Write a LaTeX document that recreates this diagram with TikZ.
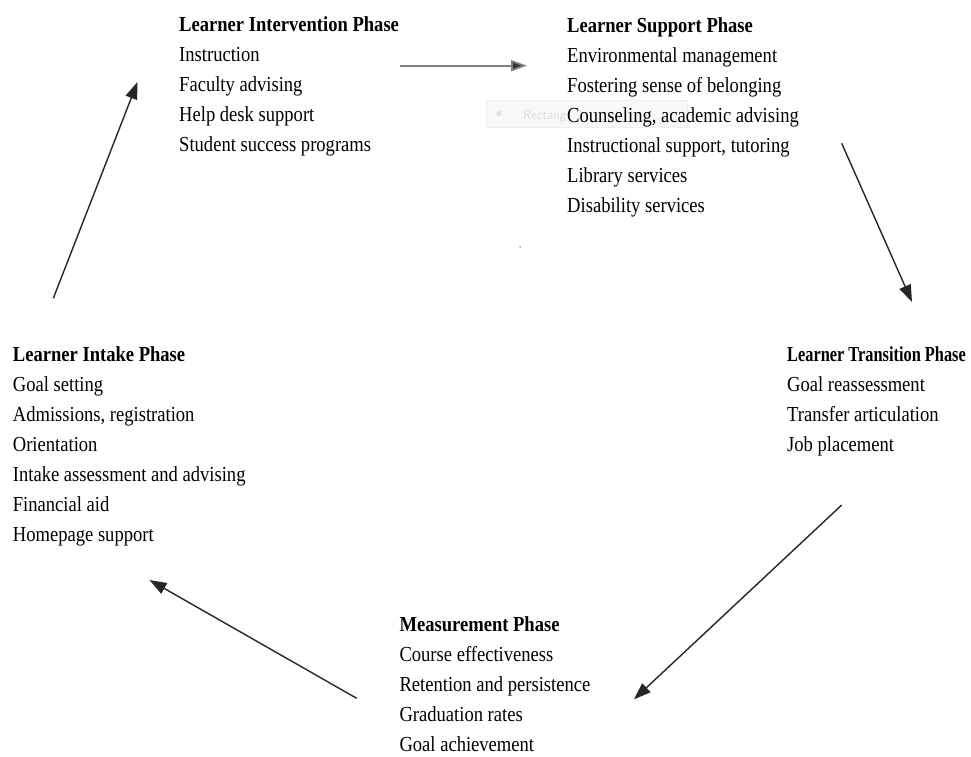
\documentclass[tikz,border=0pt]{standalone}
\usepackage{fontspec}
\usepackage{graphicx}
\setmainfont{Liberation Serif}[FakeStretch=0.868]
\usetikzlibrary{arrows.meta}

\tikzset{
  phase/.style={anchor=base west, inner sep=0pt, font=\fontsize{21.4}{30}\selectfont},
  flow/.style={line width=1.4pt, draw=black!85, -{Triangle[length=17pt,width=12pt]}},
  flowgray/.style={line width=1.8pt, draw=black!50, -{Triangle[length=16pt,width=11pt,fill=black!80]}},
  tipbox/.style={draw=blue!8!gray!12, fill=blue!4!gray!5, line width=0.6pt},
}

\begin{document}
\begin{tikzpicture}[x=1pt,y=-1pt]
\useasboundingbox[fill=white] (0,0) rectangle (971,756);

% faint hover label lying under the support list
\draw[tipbox] (486,100) rectangle (687,127);
\fill[black!12] (499,113.5) circle (2.6pt);
\node[anchor=base west, inner sep=0pt, text=black!14,
      font=\fontfamily{lmss}\fontsize{13}{15}\selectfont] (tiplabel) at (523,119) {Rectang};
\fill[black!35] (520,247) circle (1pt);

% phase blocks
\node[phase] (intervention) at (179,31.7) {\begin{tabular}[t]{@{}l@{}}
  \textbf{Learner Intervention Phase}\\
  Instruction\\
  Faculty advising\\
  Help desk support\\
  Student success programs
\end{tabular}};

\node[phase] (support) at (567,32.3) {\begin{tabular}[t]{@{}l@{}}
  \textbf{Learner Support Phase}\\
  Environmental management\\
  Fostering sense of belonging\\
  Counseling, academic advising\\
  Instructional support, tutoring\\
  Library services\\
  Disability services
\end{tabular}};

\node[phase] (intake) at (12.7,361.7) {\begin{tabular}[t]{@{}l@{}}
  \textbf{Learner Intake Phase}\\
  Goal setting\\
  Admissions, registration\\
  Orientation\\
  Intake assessment and advising\\
  Financial aid\\
  Homepage support
\end{tabular}};

\node[phase] (transition) at (787,361.7) {\begin{tabular}[t]{@{}l@{}}
  \scalebox{0.88}[1]{\textbf{Learner Transition Phase}}\\
  Goal reassessment\\
  Transfer articulation\\
  Job placement
\end{tabular}};

\node[phase] (measurement) at (399.3,631.7) {\begin{tabular}[t]{@{}l@{}}
  \textbf{Measurement Phase}\\
  Course effectiveness\\
  Retention and persistence\\
  Graduation rates\\
  Goal achievement
\end{tabular}};

% arrow end points
\coordinate (intakeOut)       at (53.3,298.3);
\coordinate (interventionIn)  at (137.5,82);
\coordinate (interventionOut) at (400,65.7);
\coordinate (supportIn)       at (527,65.7);
\coordinate (supportOut)      at (841.7,143.3);
\coordinate (transitionIn)    at (912,302);
\coordinate (transitionOut)   at (841.7,505);
\coordinate (measurementIn)   at (634,699.3);
\coordinate (measurementOut)  at (356.7,698.3);
\coordinate (intakeIn)        at (149.5,580);

% cycle of phases
\draw[flow]     (intakeOut)       -- (interventionIn);
\draw[flowgray] (interventionOut) -- (supportIn);
\draw[flow]     (supportOut)      -- (transitionIn);
\draw[flow]     (transitionOut)   -- (measurementIn);
\draw[flow]     (measurementOut)  -- (intakeIn);
\end{tikzpicture}
\end{document}
